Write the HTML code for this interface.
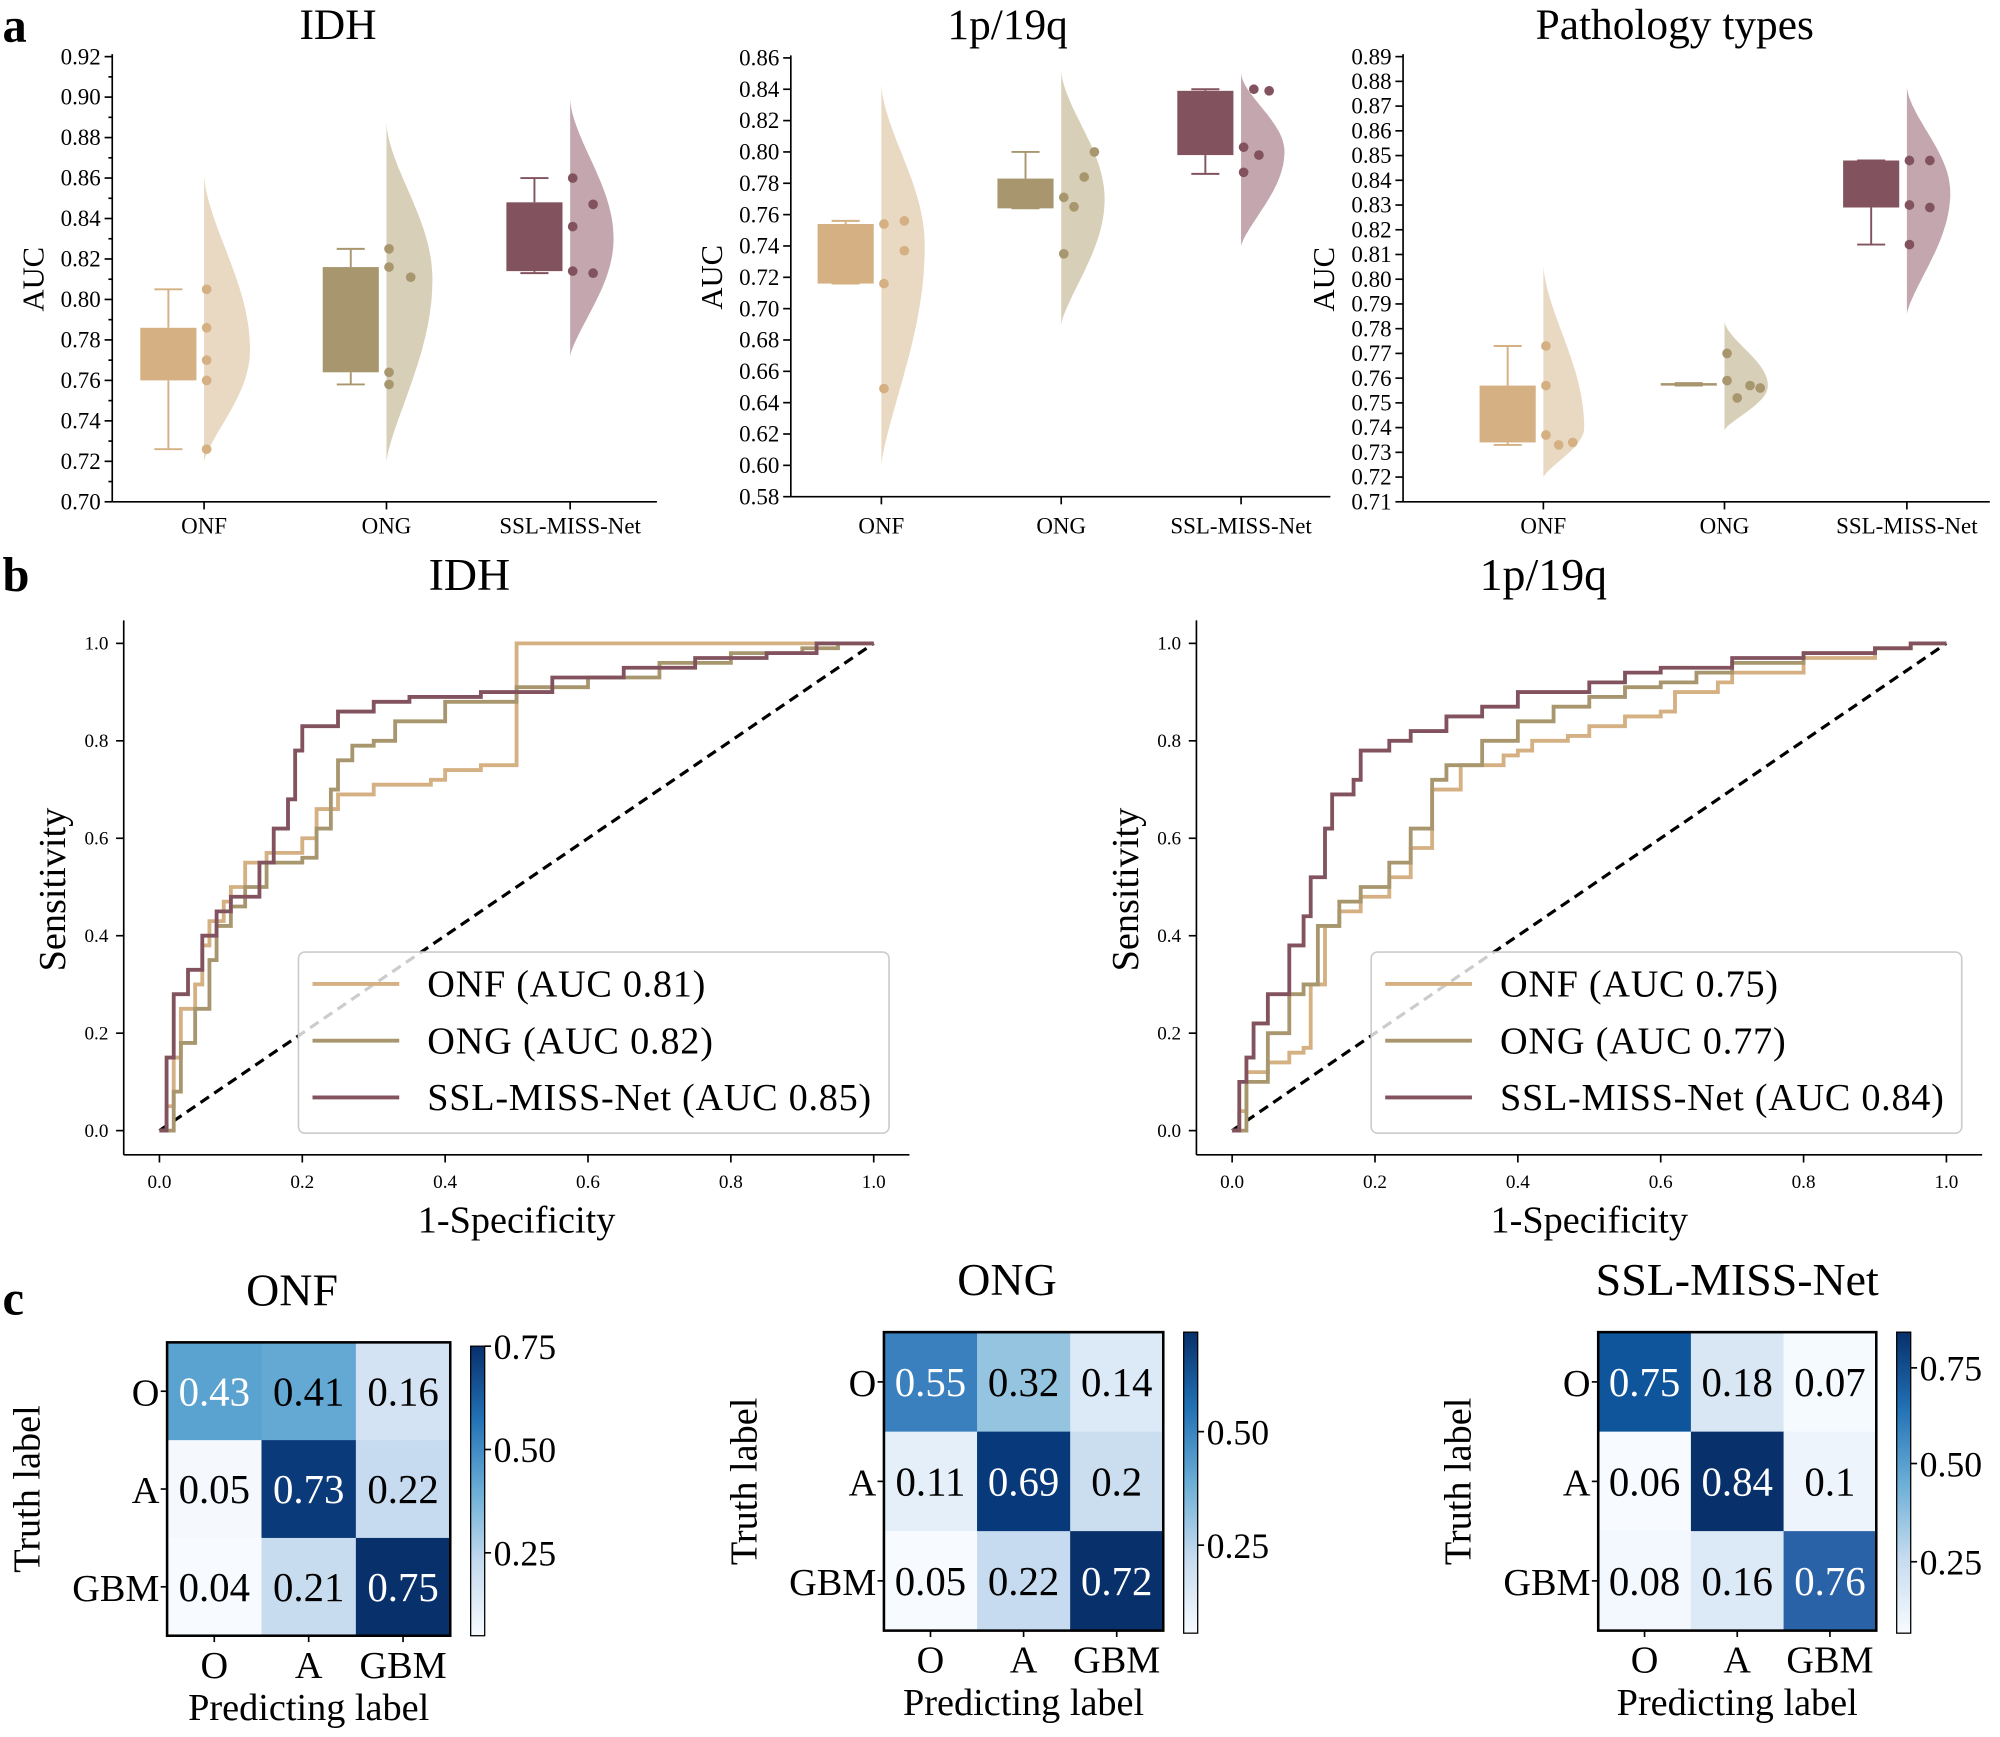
<!DOCTYPE html>
<html><head><meta charset="utf-8"><style>html,body{margin:0;padding:0;background:#fff}svg{display:block}text{font-family:"Liberation Serif",serif}</style></head>
<body>
<svg id="s" width="2000" height="1737" viewBox="0 0 1568 1361" xmlns="http://www.w3.org/2000/svg"></svg>
<script>
const S=document.getElementById('s');let h='';
const C={onf:'#d4b083',ong:'#a8976e',ssl:'#82535f'};
const CV={onf:'#e9d9c3',ong:'#d8cfb8',ssl:'#c3a6ae'};
function t(x,y,s,sz,o){o=o||'';h+=`<text x="${x}" y="${y}" font-size="${sz}" ${o}>${s}</text>`;}
function ln(x1,y1,x2,y2,c,w,o){h+=`<line x1="${x1}" y1="${y1}" x2="${x2}" y2="${y2}" stroke="${c||'#000'}" stroke-width="${w||1.3}" ${o||''}/>`;}
t(2,32,'a',38,'font-weight="bold"');t(2,463,'b',38,'font-weight="bold"');t(2,1030,'c',38,'font-weight="bold"');
function plotA(cfg){
 const {ax,x2,yb,yt,vmin,vmax,step,title,tx,cats,data,minor}=cfg;
 const Y=v=>yb-(v-vmin)/(vmax-vmin)*(yb-yt);
 ln(ax,yt-2,ax,yb);ln(ax,yb,x2,yb);
 const n=Math.round((vmax-vmin)/step);
 for(let i=0;i<=n;i++){const v=vmin+i*step,y=Y(v);ln(ax-6,y,ax,y);t(ax-9,y+6,v.toFixed(2),18,'text-anchor="end"');
  if(minor&&i<n){ln(ax-3,Y(v+step/2),ax,Y(v+step/2));}}
 t(tx,30,title,34,'text-anchor="middle"');
 h+=`<text transform="translate(${ax-54},${(yb+yt)/2}) rotate(-90)" font-size="24" text-anchor="middle">AUC</text>`;
 cats.forEach((c,i)=>{ln(c,yb,c,yb+6);t(c,418,['ONF','ONG','SSL-MISS-Net'][i],18,'text-anchor="middle"');});
 data.forEach((d,i)=>{
  const k=['onf','ong','ssl'][i],c=cats[i];
  const [lo,hi,pk,w]=d.v;let pts=[];
  for(let j=0;j<=60;j++){const v=lo+(hi-lo)*j/60;let f;
   if(v<pk)f=Math.pow(Math.sin((v-lo)/(pk-lo)*Math.PI/2),1.3);else f=Math.pow(Math.cos((v-pk)/(hi-pk)*Math.PI/2),1.6);
   pts.push([c+w*f,Y(v)]);}
  h+=`<path d="M${c},${Y(lo)} L${pts.map(p=>p[0].toFixed(1)+','+p[1].toFixed(1)).join(' L')} L${c},${Y(hi)} Z" fill="${CV[k]}" />`;
  const [wl,q1,q3,wh]=d.b,bx=c-50;
  ln(bx+22,Y(wl),bx+22,Y(q1),C[k],1.5);ln(bx+22,Y(q3),bx+22,Y(wh),C[k],1.5);
  ln(bx+11,Y(wl),bx+33,Y(wl),C[k],1.5);ln(bx+11,Y(wh),bx+33,Y(wh),C[k],1.5);
  h+=`<rect x="${bx}" y="${Y(q3)}" width="44" height="${Math.max(2,Y(q1)-Y(q3))}" fill="${C[k]}"/>`;
  d.p.forEach(p=>h+=`<circle cx="${c+2+p[0]}" cy="${Y(p[1])}" r="3.8" fill="${C[k]}"/>`);
 });
}
plotA({ax:88,x2:515,yb:393,yt:44,vmin:.70,vmax:.92,step:.02,minor:true,title:'IDH',tx:265,cats:[160,303,447],data:[
 {b:[.726,.760,.786,.805],v:[.72,.862,.775,36],p:[[0,.805],[0,.786],[0,.770],[0,.760],[0,.726]]},
 {b:[.758,.764,.816,.825],v:[.72,.887,.81,36],p:[[0,.825],[0,.816],[0,.764],[0,.758],[17,.811]]},
 {b:[.813,.814,.848,.860],v:[.772,.899,.83,34],p:[[0,.86],[0,.836],[0,.814],[16,.847],[16,.813]]}]});
plotA({ax:620,x2:1043,yb:389,yt:45,vmin:.58,vmax:.86,step:.02,title:'1p/19q',tx:790,cats:[691,832,973],data:[
 {b:[.716,.716,.754,.756],v:[.60,.843,.74,34],p:[[0,.754],[0,.716],[0,.649],[16,.756],[16,.737]]},
 {b:[.764,.764,.783,.80],v:[.69,.852,.77,34],p:[[0,.771],[0,.735],[8,.765],[16,.784],[24,.80]]},
 {b:[.786,.798,.839,.84],v:[.74,.85,.80,34],p:[[0,.803],[0,.787],[8,.84],[12,.798],[20,.839]]}]});
plotA({ax:1100,x2:1560,yb:393,yt:44,vmin:.71,vmax:.89,step:.01,title:'Pathology types',tx:1313,cats:[1210,1352,1495],data:[
 {b:[.733,.734,.757,.773],v:[.72,.806,.74,32],p:[[0,.773],[0,.757],[0,.737],[10,.733],[21,.734]]},
 {b:[.757,.757,.758,.758],v:[.739,.783,.757,34],p:[[0,.770],[0,.759],[8,.752],[18,.757],[26,.756]]},
 {b:[.814,.829,.848,.848],v:[.786,.878,.835,34],p:[[0,.848],[0,.830],[0,.814],[16,.848],[16,.829]]}]});
function roc(cfg){
 const {x0,title,tx,curves,aucs}=cfg;const L=x0-28,R=x0+588;
 const X=f=>x0+560*f,Y=f=>886-382*f;
 ln(L,486,L,905);ln(L,905,R,905);
 for(let i=0;i<=5;i++){const f=i/5;ln(L-6,Y(f),L,Y(f));t(L-12,Y(f)+5,f.toFixed(1),15,'text-anchor="end"');
  ln(X(f),905,X(f),911);t(X(f),931,f.toFixed(1),15,'text-anchor="middle"');}
 t(tx,462,title,36,'text-anchor="middle"');
 t(X(.5),966,'1-Specificity',30,'text-anchor="middle"');
 h+=`<text transform="translate(${L-46},697) rotate(-90)" font-size="30" text-anchor="middle">Sensitivity</text>`;
 ln(X(0),Y(0),X(1),Y(1),'#000',2.5,'stroke-dasharray="8,5"');
 const ks=['onf','ong','ssl'];
 curves.forEach((c,i)=>{let d='';let py=0;c.forEach((p,j)=>{if(j==0)d+=`M${X(p[0])},${Y(p[1])}`;else{d+=` L${X(p[0])},${Y(py)} L${X(p[0])},${Y(p[1])}`;}py=p[1];});
  h+=`<path d="${d}" fill="none" stroke="${C[ks[i]]}" stroke-width="3"/>`;});
 const lx=x0+109;
 h+=`<rect x="${lx}" y="746" width="463" height="142" rx="5" fill="#fff" fill-opacity="0.8" stroke="#ccc" stroke-width="1.3"/>`;
 ['ONF','ONG','SSL-MISS-Net'].forEach((n,i)=>{const y=771+i*44.5;ln(lx+11,y,lx+79,y,C[ks[i]],3);t(lx+101,y+10,`${n} (AUC ${aucs[i]})`,30,'textLength="'+(i==2?348:[218,224][i])+'"');});
}
roc({x0:125,title:'IDH',tx:368,aucs:['0.81','0.82','0.85'],curves:[
 [[0,0],[.01,.05],[.02,.15],[.03,.25],[.05,.3],[.06,.38],[.07,.43],[.09,.47],[.1,.5],[.12,.55],[.15,.57],[.2,.6],[.22,.66],[.25,.69],[.3,.71],[.38,.72],[.4,.74],[.45,.75],[.5,.75],[.5,1],[1,1]],
 [[0,0],[.02,.08],[.03,.18],[.05,.25],[.07,.35],[.08,.42],[.1,.46],[.12,.5],[.15,.55],[.2,.56],[.22,.62],[.24,.7],[.25,.76],[.27,.79],[.3,.8],[.33,.84],[.4,.88],[.5,.91],[.6,.93],[.7,.96],[.8,.98],[.9,.99],[.95,1],[1,1]],
 [[0,0],[.01,.15],[.02,.28],[.04,.33],[.06,.4],[.08,.45],[.1,.48],[.14,.55],[.16,.62],[.18,.68],[.19,.78],[.2,.83],[.25,.86],[.3,.88],[.35,.89],[.45,.9],[.55,.93],[.65,.95],[.75,.97],[.85,.98],[.92,1],[1,1]]]});
roc({x0:966,title:'1p/19q',tx:1210,aucs:['0.75','0.77','0.84'],curves:[
 [[0,0],[.01,.04],[.02,.12],[.05,.14],[.08,.16],[.1,.17],[.11,.3],[.13,.42],[.15,.45],[.18,.48],[.22,.52],[.25,.58],[.28,.7],[.32,.75],[.38,.77],[.4,.78],[.42,.8],[.47,.81],[.5,.83],[.55,.85],[.6,.86],[.62,.9],[.68,.92],[.7,.94],[.8,.97],[.9,.99],[.95,1],[1,1]],
 [[0,0],[.02,.1],[.05,.2],[.08,.28],[.1,.3],[.12,.42],[.15,.47],[.18,.5],[.22,.55],[.25,.62],[.28,.72],[.3,.75],[.35,.8],[.4,.84],[.45,.87],[.5,.89],[.55,.91],[.6,.92],[.65,.94],[.7,.96],[.8,.98],[.9,.99],[.95,1],[1,1]],
 [[0,0],[.01,.1],[.02,.15],[.03,.22],[.05,.28],[.08,.38],[.1,.44],[.11,.52],[.13,.62],[.14,.69],[.17,.72],[.18,.78],[.22,.8],[.25,.82],[.3,.85],[.35,.87],[.4,.9],[.5,.92],[.55,.94],[.6,.95],[.7,.97],[.8,.98],[.9,.99],[.95,1],[1,1]]]});
function hm(cfg){
 const {x,y,w,hh,vals,cols,white,title,cb,ticks}=cfg;const cw=w/3,ch=hh/3;
 for(let r=0;r<3;r++)for(let c=0;c<3;c++){const i=r*3+c;
  h+=`<rect x="${x+c*cw}" y="${y+r*ch}" width="${cw+.5}" height="${ch+.5}" fill="${cols[i]}"/>`;
  t(x+c*cw+cw/2,y+r*ch+ch/2+11,vals[i],32,`text-anchor="middle" fill="${white.includes(i)?'#fff':'#000'}"`);}
 h+=`<rect x="${x}" y="${y}" width="${w}" height="${hh}" fill="none" stroke="#000" stroke-width="2"/>`;
 ['O','A','GBM'].forEach((l,i)=>{ln(x-5,y+i*ch+ch/2,x,y+i*ch+ch/2);t(x-6,y+i*ch+ch/2+11,l,30,'text-anchor="end"');
  ln(x+i*cw+cw/2,y+hh,x+i*cw+cw/2,y+hh+5);t(x+i*cw+cw/2,y+hh+33,l,30,'text-anchor="middle"');});
 t(x+w/2+(cfg.tdx||0),y-29,title,36,'text-anchor="middle"');
 t(x+w/2,y+hh+66,'Predicting label',30,'text-anchor="middle"');
 h+=`<text transform="translate(${x-100},${y+hh/2}) rotate(-90)" font-size="30" text-anchor="middle">Truth label</text>`;
 const [cx,cy1,cy2]=cb;
 h+=`<defs><linearGradient id="g${cx}" x1="0" y1="1" x2="0" y2="0"><stop offset="0" stop-color="#f7fbff"/><stop offset=".25" stop-color="#c6dbef"/><stop offset=".5" stop-color="#6baed6"/><stop offset=".75" stop-color="#2171b5"/><stop offset="1" stop-color="#08306b"/></linearGradient></defs>`;
 h+=`<rect x="${cx}" y="${cy1}" width="11" height="${cy2-cy1}" fill="url(#g${cx})" stroke="#000" stroke-width="1"/>`;
 ticks.forEach(tk=>{ln(cx+11,tk[1],cx+16,tk[1]);t(cx+18,tk[1]+10,tk[0],28);});
}
hm({x:131,y:1052,w:222,hh:230,title:'ONF',tdx:-13,cb:[369,1055,1282],ticks:[['0.75',1055],['0.50',1136],['0.25',1217]],
 vals:['0.43','0.41','0.16','0.05','0.73','0.22','0.04','0.21','0.75'],white:[0,4,8],
 cols:['#5aa2cf','#64a9d3','#d3e3f3','#f5f9fe','#0a3a79','#c6dbef','#f7fbff','#c8dcf0','#08306b']});
hm({x:693,y:1044,w:219,hh:234,title:'ONG',tdx:-13,cb:[928,1044,1280],ticks:[['0.50',1122],['0.25',1211]],
 vals:['0.55','0.32','0.14','0.11','0.69','0.2','0.05','0.22','0.72'],white:[0,4,8],
 cols:['#3a80bf','#94c4df','#dce9f6','#e4eff9','#08397a','#cadef0','#f7fbff','#c6dbef','#08306b']});
hm({x:1253,y:1044,w:218,hh:234,title:'SSL-MISS-Net',cb:[1487,1044,1280],ticks:[['0.75',1072],['0.50',1147],['0.25',1224]],
 vals:['0.75','0.18','0.07','0.06','0.84','0.1','0.08','0.16','0.76'],white:[0,4,8],
 cols:['#0f559c','#d9e7f5','#f5fafe','#f7fbff','#08306b','#edf4fc','#f2f8fd','#dce9f6','#2a62a8']});
S.innerHTML=h;
</script>
</body></html>
